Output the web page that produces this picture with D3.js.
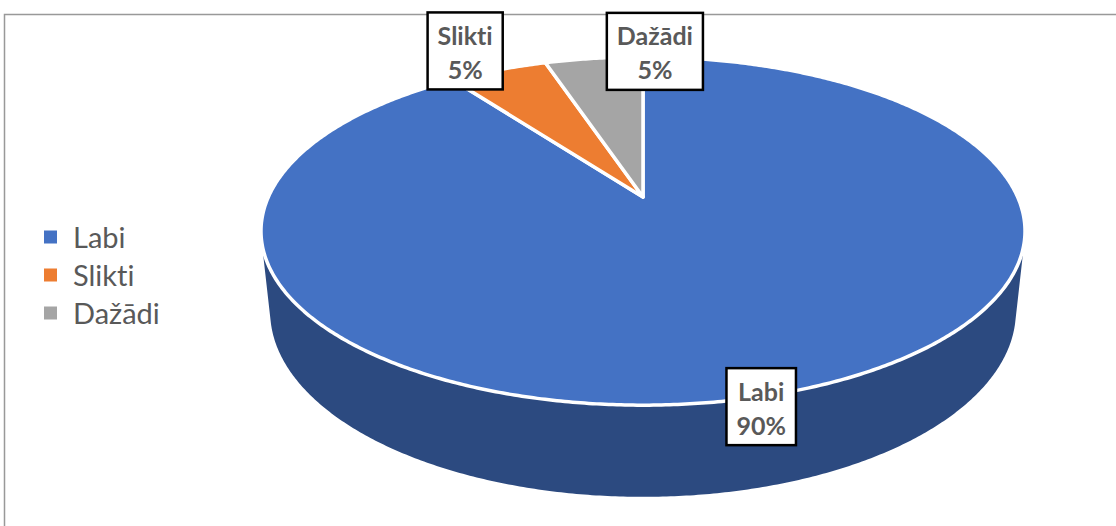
<!DOCTYPE html>
<html>
<head>
<meta charset="utf-8">
<script src="https://cdn.jsdelivr.net/npm/d3@7"></script>
<style>
  body { margin: 0; background: #fff; }
  svg { display: block; }
  text { font-variant-ligatures: none; font-feature-settings: "liga" 0; }
</style>
</head>
<body>
<div id="chart-area"></div>
<script>
// data
const categories = ["Labi", "Slikti", "Dažādi"];
const values = [90, 5, 5];
const colors = ["#4472C4", "#ED7D31", "#A5A5A5"];
const sideColors = ["#2C4A80", "#B45E24", "#7C7C7C"];

const full_width = 1116, full_height = 526;

// 3D view of the disc (perspective camera, distance = 1)
const view = { cx: 643, cy: 197, F: 1713, R: 0.2187, h: 0.0528, sinP: 0.447, cosP: 0.894 };

// label placement: radial factor + nudge from projected mid-angle point
const labelLayout = [
    { k: 1.0, dx: -24, dy: 14 },
    { k: 1.0, dx: -33, dy: -19 },
    { k: 1.0, dx: 61, dy: -7 }
];

const svg = d3.select("#chart-area")
    .append("svg")
    .attr("width", full_width)
    .attr("height", full_height);

// chart frame
svg.append("rect")
    .attr("x", 4.5).attr("y", 14.5)
    .attr("width", 1130).attr("height", 540)
    .attr("fill", "none")
    .attr("stroke", "#999")
    .attr("stroke-width", 1.5);

function project(theta, k, depth) {
    const X = k * view.R * Math.sin(theta),
        Z = -k * view.R * Math.cos(theta),
        Y = -depth * view.h;
    const d = 1 - Y * view.sinP - Z * view.cosP;
    return [view.cx + view.F * X / d, view.cy + view.F * (Z * view.sinP - Y * view.cosP) / d];
}

const data = categories.map((c, i) => ({ name: c, value: values[i] }));

const arcs = d3.pie().sort(null).value(d => d.value)(data);

const color = d3.scaleOrdinal().domain(categories).range(colors);
const sideColor = d3.scaleOrdinal().domain(categories).range(sideColors);

const step = Math.PI / 360;
function sample(a0, a1) {
    const n = Math.max(2, Math.ceil((a1 - a0) / step));
    return d3.range(n + 1).map(i => a0 + (a1 - a0) * i / n);
}

const line = d3.line();

// visible range of the outer wall
const thetaVis = Math.acos(-view.R / view.cosP);
const visLo = thetaVis, visHi = 2 * Math.PI - thetaVis;

const g = svg.append("g");

// walls
arcs.forEach(a => {
    const a0 = Math.max(a.startAngle, visLo), a1 = Math.min(a.endAngle, visHi);
    if (a1 <= a0) return;
    const ts = sample(a0, a1);
    const pts = ts.map(t => project(t, 1, 0)).concat(ts.slice().reverse().map(t => project(t, 1, 1)));
    g.append("path")
        .attr("d", line(pts) + "Z")
        .attr("fill", sideColor(a.data.name))
        .attr("stroke", "none");
});

// top faces
g.selectAll("path.top")
    .data(arcs)
    .enter()
    .append("path")
        .attr("class", "top")
        .attr("d", a => {
            const pts = [project(0, 0, 0)].concat(sample(a.startAngle, a.endAngle).map(t => project(t, 1, 0)));
            return line(pts) + "Z";
        })
        .attr("fill", a => color(a.data.name))
        .attr("stroke", "#fff")
        .attr("stroke-width", 3.5)
        .attr("stroke-linejoin", "round");

// data labels
const total = d3.sum(values);
const labels = svg.selectAll("g.label")
    .data(arcs)
    .enter()
    .append("g")
        .attr("class", "label")
        .attr("transform", (a, i) => {
            const mid = (a.startAngle + a.endAngle) / 2;
            const p = project(mid, labelLayout[i].k, 0);
            return "translate(" + (p[0] + labelLayout[i].dx) + "," + (p[1] + labelLayout[i].dy) + ")";
        });

labels.each(function(a) {
    const lg = d3.select(this);
    const box = lg.append("rect");
    const t1 = lg.append("text")
        .attr("y", -6)
        .text(a.data.name);
    const t2 = lg.append("text")
        .attr("y", 28)
        .text(Math.round(a.value / total * 100) + "%");
    lg.selectAll("text")
        .attr("text-anchor", "middle")
        .attr("font-family", "Lato, 'Open Sans', sans-serif")
        .attr("font-weight", "bold")
        .attr("font-size", "25px")
        .attr("fill", "#595959");
    const w = Math.max(t1.node().getComputedTextLength(), t2.node().getComputedTextLength()) + 20;
    box.attr("x", -w / 2).attr("y", -38.5)
        .attr("width", w).attr("height", 77)
        .attr("fill", "#fff")
        .attr("stroke", "#000")
        .attr("stroke-width", 2.5);
});

// legend
const legend = svg.append("g")
    .attr("transform", "translate(44, 237)");

const items = legend.selectAll("g")
    .data(categories)
    .enter()
    .append("g")
        .attr("transform", (d, i) => "translate(0," + (i * 38) + ")");

items.append("rect")
    .attr("x", 0).attr("y", -6.5)
    .attr("width", 13).attr("height", 13)
    .attr("fill", d => color(d));

items.append("text")
    .attr("x", 29)
    .attr("y", 11)
    .attr("font-family", "Lato, 'Open Sans', sans-serif")
    .attr("font-size", "29px")
    .attr("fill", "#595959")
    .text(d => d);
</script>
</body>
</html>
